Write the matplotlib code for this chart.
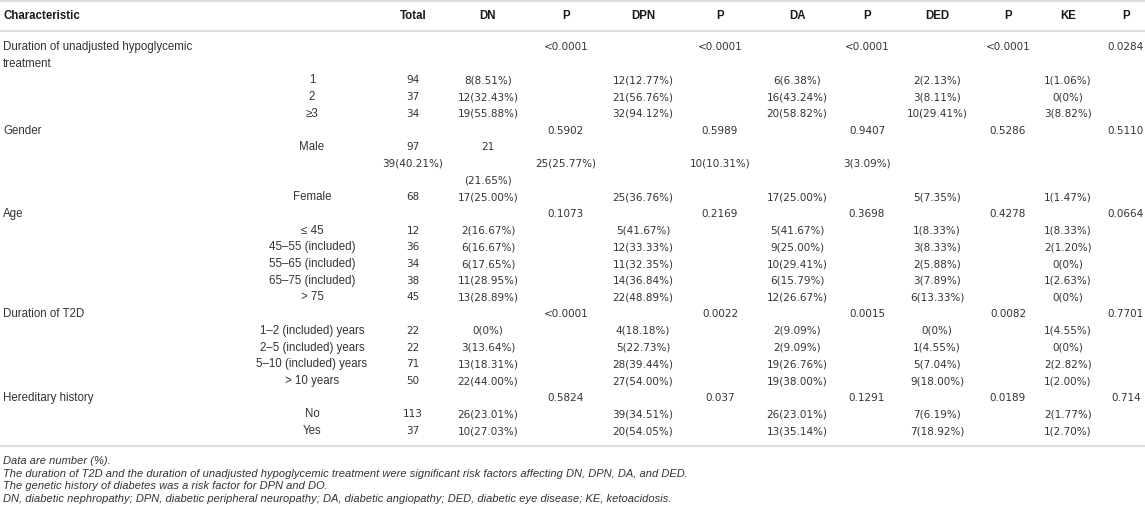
import matplotlib

matplotlib.use("Agg")
import matplotlib.pyplot as plt

plt.rcParams["font.family"] = ["Liberation Sans", "DejaVu Sans"]

headers = ["Characteristic", "Total", "DN", "P", "DPN", "P", "DA", "P", "DED", "P", "KE", "P"]

group_labels = [
    "Duration of unadjusted hypoglycemic\ntreatment",
    "Gender",
    "Age",
    "Duration of T2D",
    "Hereditary history",
]
p_dn = ["<0.0001", "0.5902", "0.1073", "<0.0001", "0.5824"]
p_dpn = ["<0.0001", "0.5989", "0.2169", "0.0022", "0.037"]
p_da = ["<0.0001", "0.9407", "0.3698", "0.0015", "0.1291"]
p_ded = ["<0.0001", "0.5286", "0.4278", "0.0082", "0.0189"]
p_ke = ["0.0284", "0.5110", "0.0664", "0.7701", "0.714"]

levels = [
    ["1", "2", "≥3"],
    ["Male", "Female"],
    ["≤ 45", "45–55 (included)", "55–65 (included)", "65–75 (included)", "> 75"],
    ["1–2 (included) years", "2–5 (included) years", "5–10 (included) years", "> 10 years"],
    ["No", "Yes"],
]
totals = [[94, 37, 34], [97, 68], [12, 36, 34, 38, 45], [22, 22, 71, 50], [113, 37]]
dn = [
    ["8(8.51%)", "12(32.43%)", "19(55.88%)"],
    ["21(21.65%)", "17(25.00%)"],
    ["2(16.67%)", "6(16.67%)", "6(17.65%)", "11(28.95%)", "13(28.89%)"],
    ["0(0%)", "3(13.64%)", "13(18.31%)", "22(44.00%)"],
    ["26(23.01%)", "10(27.03%)"],
]
dpn = [
    ["12(12.77%)", "21(56.76%)", "32(94.12%)"],
    ["39(40.21%)", "25(36.76%)"],
    ["5(41.67%)", "12(33.33%)", "11(32.35%)", "14(36.84%)", "22(48.89%)"],
    ["4(18.18%)", "5(22.73%)", "28(39.44%)", "27(54.00%)"],
    ["39(34.51%)", "20(54.05%)"],
]
da = [
    ["6(6.38%)", "16(43.24%)", "20(58.82%)"],
    ["25(25.77%)", "17(25.00%)"],
    ["5(41.67%)", "9(25.00%)", "10(29.41%)", "6(15.79%)", "12(26.67%)"],
    ["2(9.09%)", "2(9.09%)", "19(26.76%)", "19(38.00%)"],
    ["26(23.01%)", "13(35.14%)"],
]
ded = [
    ["2(2.13%)", "3(8.11%)", "10(29.41%)"],
    ["10(10.31%)", "5(7.35%)"],
    ["1(8.33%)", "3(8.33%)", "2(5.88%)", "3(7.89%)", "6(13.33%)"],
    ["0(0%)", "1(4.55%)", "5(7.04%)", "9(18.00%)"],
    ["7(6.19%)", "7(18.92%)"],
]
ke = [
    ["1(1.06%)", "0(0%)", "3(8.82%)"],
    ["3(3.09%)", "1(1.47%)"],
    ["1(8.33%)", "2(1.20%)", "0(0%)", "1(2.63%)", "0(0%)"],
    ["1(4.55%)", "0(0%)", "2(2.82%)", "1(2.00%)"],
    ["2(1.77%)", "1(2.70%)"],
]

footnotes = [
    "Data are number (%).",
    "The duration of T2D and the duration of unadjusted hypoglycemic treatment were "
    "significant risk factors affecting DN, DPN, DA, and DED.",
    "The genetic history of diabetes was a risk factor for DPN and DO.",
    "DN, diabetic nephropathy; DPN, diabetic peripheral neuropathy; DA, diabetic "
    "angiopathy; DED, diabetic eye disease; KE, ketoacidosis.",
]

# column centres in pixels (sub-level, Total, DN, P, DPN, P, DA, P, DED, P, KE, P)
col_x = [312, 413, 488, 566, 643, 720, 797, 867, 937, 1008, 1068, 1126]
# the Male row wraps in the source layout: its cells slide three columns left
broken_row = (1, 0)

text_color = "#333333"
head_color = "#1a1a1a"
rule_color = "#dedede"
label_size = 8.3
number_size = 7.5
note_size = 8.05

fig = plt.figure(figsize=(11.45, 5.13), dpi=100)
ax = fig.add_axes([0, 0, 1, 1])
ax.set_xlim(0, 1145)
ax.set_ylim(513, 0)
ax.axis("off")


def label(x, y, s, ha="center", size=label_size, **kw):
    ax.text(x, y, s, ha=ha, va="center", fontsize=size, color=text_color, **kw)


def number(x, y, s):
    ax.text(x, y, s, ha="center", va="center", fontsize=number_size,
            color=text_color, family="DejaVu Sans")


# header
for i, h in enumerate(headers):
    x, ha = (3, "left") if i == 0 else (col_x[i], "center")
    ax.text(x, 16, h, ha=ha, va="center", fontsize=label_size,
            fontweight="bold", color=head_color)

for y in (1.2, 31, 446):
    ax.axhline(y, color=rule_color, linewidth=1.6)

row_h = 16.7
y0 = 47
line = 0
group_p = list(zip(p_dn, p_dpn, p_da, p_ded, p_ke))
for g, text in enumerate(group_labels):
    parts = text.split("\n")
    for k, part in enumerate(parts):
        label(3, y0 + (line + k) * row_h, part, ha="left")
    for j, p in enumerate(group_p[g]):
        number(col_x[3 + 2 * j], y0 + line * row_h, p)
    line += len(parts)
    for r, lev in enumerate(levels[g]):
        y = y0 + line * row_h
        vals = [dn[g][r], dpn[g][r], da[g][r], ded[g][r], ke[g][r]]
        label(col_x[0], y, lev)
        number(col_x[1], y, str(totals[g][r]))
        if (g, r) == broken_row:
            head, tail = vals[0].split("(", 1)
            number(col_x[2], y, head)
            for j, v in enumerate(vals[1:]):
                number(col_x[4 + 2 * j - 3], y + row_h, v)
            number(col_x[2], y + 2 * row_h, "(" + tail)
            line += 3
            continue
        for j, v in enumerate(vals):
            number(col_x[2 + 2 * j], y, v)
        line += 1

for k, note in enumerate(footnotes):
    label(3, 461 + k * 12.7, note, ha="left", size=note_size, fontstyle="italic")

fig.savefig("out.png", dpi=100)
plt.close(fig)
